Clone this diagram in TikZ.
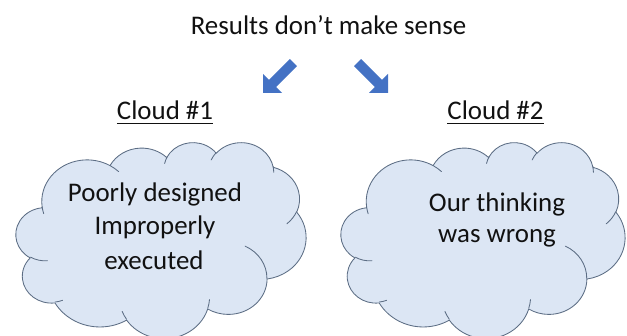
\documentclass[tikz,border=0pt]{standalone}
\usepackage{fontspec}
\setmainfont{Carlito}
\definecolor{cloudfill}{HTML}{DCE6F4}
\definecolor{cloudline}{HTML}{5C6D84}
\definecolor{arrowblue}{HTML}{4472C4}
\definecolor{txt}{HTML}{111111}
\tikzset{
  bigtext/.style={font=\fontsize{26.9}{32}\selectfont, text=txt, inner sep=0pt, anchor=base},
  blockarrow/.style={fill=arrowblue, draw=none},
  cloudshape/.style={fill=cloudfill, draw=cloudline, line width=0.85pt, line join=round},
  cloudinner/.style={draw=cloudline, line width=0.85pt, line cap=round}
}
\begin{document}
\begin{tikzpicture}[x=1pt,y=1pt]
\useasboundingbox (0,0) rectangle (627,336);
% clouds (PowerPoint cloud geometry; u,v in 1/100 of 43200, v downward)
\foreach \cx/\cw in {16/290, 341/284}{
\pgfmathsetmacro\sx{\cw/432}
\pgfmathsetmacro\sy{196/432}
\path[cloudshape] ({\cx+39.00*\sx},{194-143.70*\sy})
  arc[start angle=187.745, end angle=59.632, x radius={67.53pt*\sx}, y radius={91.90pt*\sy}]
  arc[start angle=152.035, end angle=45.459, x radius={53.33pt*\sx}, y radius={72.67pt*\sy}]
  arc[start angle=153.492, end angle=37.332, x radius={43.65pt*\sx}, y radius={59.45pt*\sy}]
  arc[start angle=139.714, end angle=10.211, x radius={48.57pt*\sx}, y radius={65.95pt*\sy}]
  arc[start angle=74.768, end angle=-23.212, x radius={53.33pt*\sx}, y radius={72.73pt*\sy}]
  arc[start angle=37.529, end angle=-81.862, x radius={67.75pt*\sx}, y radius={92.20pt*\sy}]
  arc[start angle=-0.460, end angle=-121.978, x radius={57.85pt*\sx}, y radius={78.67pt*\sy}]
  arc[start angle=-16.844, end angle=-146.224, x radius={67.52pt*\sx}, y radius={92.15pt*\sy}]
  arc[start angle=-58.985, end angle=-150.174, x radius={77.20pt*\sx}, y radius={105.43pt*\sy}]
  arc[start angle=-83.306, end angle=-223.102, x radius={43.60pt*\sx}, y radius={59.18pt*\sy}]
  arc[start angle=-120.351, end angle=-264.112, x radius={43.45pt*\sx}, y radius={59.45pt*\sy}]
  -- cycle;
\path[cloudinner]
  ({\cx+46.93*\sx},{194-261.77*\sy}) arc[start angle=-85.546, end angle=-120.360, x radius={43.45pt*\sx}, y radius={59.45pt*\sy}]
  ({\cx+69.28*\sx},{194-348.99*\sy}) arc[start angle=-68.241, end angle=-83.306, x radius={43.60pt*\sx}, y radius={59.18pt*\sy}]
  ({\cx+164.78*\sx},{194-390.90*\sy}) arc[start angle=-146.224, end angle=-158.473, x radius={67.52pt*\sx}, y radius={92.15pt*\sy}]
  ({\cx+288.27*\sx},{194-347.51*\sy}) arc[start angle=-4.738, end angle=-16.844, x radius={67.52pt*\sx}, y radius={92.15pt*\sy}]
  ({\cx+341.29*\sx},{194-229.54*\sy}) arc[start angle=64.029, end angle=-0.460, x radius={57.85pt*\sx}, y radius={78.67pt*\sy}]
  ({\cx+417.98*\sx},{194-153.54*\sy}) arc[start angle=-23.212, end angle=-49.638, x radius={53.33pt*\sx}, y radius={72.73pt*\sy}]
  ({\cx+383.24*\sx},{194-54.26*\sy}) arc[start angle=10.211, end angle=-0.821, x radius={48.57pt*\sx}, y radius={65.95pt*\sy}]
  ({\cx+290.78*\sx},{194-39.52*\sy}) arc[start angle=156.286, end angle=139.714, x radius={48.57pt*\sx}, y radius={65.95pt*\sy}]
  ({\cx+221.41*\sx},{194-47.20*\sy}) arc[start angle=167.726, end angle=152.355, x radius={43.65pt*\sx}, y radius={59.45pt*\sy}]
  ({\cx+140.00*\sx},{194-51.92*\sy}) arc[start angle=59.633, end angle=45.738, x radius={67.53pt*\sx}, y radius={91.90pt*\sy}]
  ({\cx+41.27*\sx},{194-157.89*\sy}) arc[start angle=-163.194, end angle=-172.255, x radius={67.53pt*\sx}, y radius={91.90pt*\sy}];
}
% title
\node[bigtext] (title) at (328.5,301) {Results don’t make sense};
% block arrows
\fill[blockarrow] (263,243) -- (282,243) -- (276.04,248.96) -- (296.95,269.88)
  -- (289.87,276.95) -- (268.96,256.04) -- (263,262) -- cycle;
\fill[blockarrow] (388,243) -- (369,243) -- (374.96,248.96) -- (354.05,269.88)
  -- (361.13,276.95) -- (382.04,256.04) -- (388,262) -- cycle;
% cloud labels
\node[bigtext] (lab1) at (165,216.7) {Cloud \#1};
\node[bigtext] (lab2) at (495.5,216.7) {Cloud \#2};
\draw[txt, line width=1.6pt] ([yshift=-4.2pt]lab1.base west) -- ([yshift=-4.2pt]lab1.base east);
\draw[txt, line width=1.6pt] ([yshift=-4.2pt]lab2.base west) -- ([yshift=-4.2pt]lab2.base east);
% cloud texts
\node[bigtext] (t1a) at (155,134) {Poorly designed};
\node[bigtext] (t1b) at (155,101) {Improperly};
\node[bigtext] (t1c) at (154,66) {executed};
\node[bigtext] (t2a) at (497,124) {Our thinking};
\node[bigtext] (t2b) at (497,93) {was wrong};
\end{tikzpicture}
\end{document}
